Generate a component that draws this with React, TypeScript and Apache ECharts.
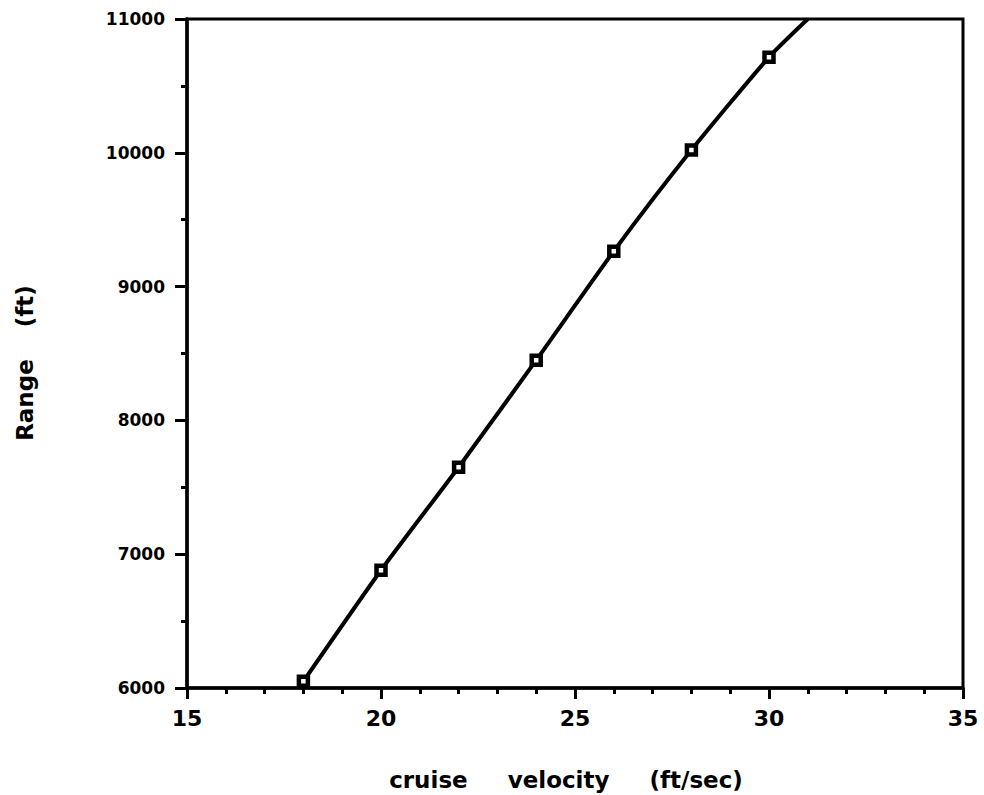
import React, { useEffect, useRef } from "react";
import * as echarts from "echarts";

const velocity = [18, 20, 22, 24, 26, 28, 30];
const range = [6050, 6880, 7650, 8450, 9265, 10020, 10715];
// continuation of the curve beyond the last marker, up to the frame
const tailPoint = [31, 11000];

const xTicks = [15, 20, 25, 30, 35];
const yTicks = [6000, 7000, 8000, 9000, 10000, 11000];

const xTitle = "cruise     velocity     (ft/sec)";
const yTitle = "Range    (ft)";

const WIDE = "'DejaVu Sans', Verdana, sans-serif";

export default function App() {
  const ref = useRef<HTMLDivElement>(null);
  useEffect(() => {
    if (!ref.current) return;
    const chart = echarts.init(ref.current, null, { renderer: "svg" });
    const lineData: any[] = velocity.map((v, i) => [v, range[i]]);
    lineData.push({ value: tailPoint, symbol: "none" });
    chart.setOption({
      animation: false,
      backgroundColor: "#ffffff",
      grid: {
        left: 187,
        right: 21,
        top: 19,
        bottom: 107,
        show: true,
        borderColor: "#000",
        borderWidth: 3,
        backgroundColor: "transparent",
      },
      graphic: [
        {
          type: "text",
          x: 566,
          y: 780,
          style: {
            text: xTitle,
            font: `bold 23px ${WIDE}`,
            fill: "#000",
            align: "center",
            verticalAlign: "middle",
          },
        },
        {
          type: "text",
          x: 25,
          y: 363,
          rotation: Math.PI / 2,
          style: {
            text: yTitle,
            font: `bold 23px ${WIDE}`,
            fill: "#000",
            align: "center",
            verticalAlign: "middle",
          },
        },
      ],
      xAxis: {
        type: "value",
        min: xTicks[0],
        max: xTicks[xTicks.length - 1],
        interval: 5,
        axisLine: { lineStyle: { color: "#000", width: 3.5 } },
        axisTick: { show: true, inside: false, length: 11, lineStyle: { color: "#000", width: 3 } },
        minorTick: { show: true, splitNumber: 5, length: 6, lineStyle: { color: "#000", width: 3 } },
        axisLabel: {
          fontFamily: WIDE,
          fontWeight: "bold",
          fontSize: 22,
          color: "#000",
          margin: 19,
          formatter: (v: number) => String(v),
        },
        splitLine: { show: false },
      },
      yAxis: {
        type: "value",
        min: yTicks[0],
        max: yTicks[yTicks.length - 1],
        interval: 1000,
        axisLine: { lineStyle: { color: "#000", width: 3.5 } },
        axisTick: { show: true, inside: false, length: 12, lineStyle: { color: "#000", width: 3 } },
        minorTick: { show: true, splitNumber: 2, length: 6, lineStyle: { color: "#000", width: 3 } },
        axisLabel: {
          fontFamily: WIDE,
          fontWeight: "bold",
          fontSize: 17,
          color: "#000",
          margin: 22,
          formatter: (v: number) => String(v),
        },
        splitLine: { show: false },
      },
      series: [
        {
          type: "line",
          data: lineData,
          smooth: 0.2,
          clip: true,
          symbol: "rect",
          symbolSize: 9,
          showAllSymbol: true,
          lineStyle: { color: "#000", width: 4 },
          itemStyle: { color: "#fff", borderColor: "#000", borderWidth: 4.5 },
          z: 3,
        },
      ],
    });
    return () => chart.dispose();
  }, []);
  return (
    <div
      ref={ref}
      style={{ position: "absolute", left: 0, top: 0, width: 984, height: 795, background: "#fff" }}
    />
  );
}
